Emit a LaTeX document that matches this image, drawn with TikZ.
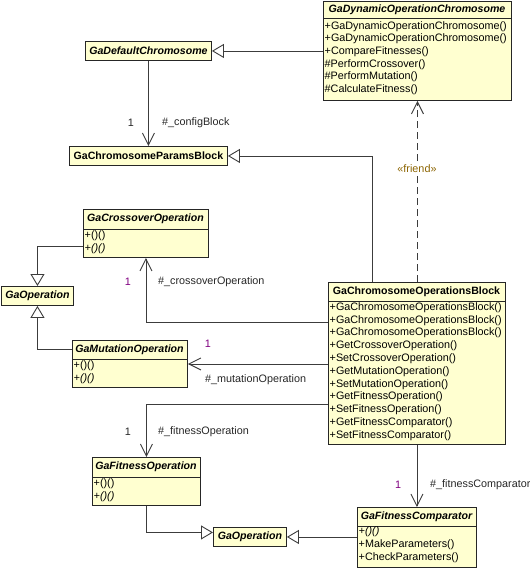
\documentclass[tikz,border=0pt]{standalone}
\usepackage{fontspec}
\setmainfont{Liberation Sans}
\usetikzlibrary{arrows.meta}
\definecolor{boxfill}{RGB}{255,255,208}
\definecolor{lnk}{RGB}{60,60,60}
\definecolor{mult}{RGB}{128,0,128}
\definecolor{stereo}{RGB}{140,100,0}
\tikzset{
  x=1pt,y=1pt,
  cls/.style={draw=black!85, fill=boxfill, line width=0.9pt, anchor=north west, inner sep=0pt},
  sepline/.style={draw=black!85, line width=0.8pt},
  title/.style={font=\fontsize{10.6}{12}\selectfont\bfseries, inner sep=0pt},
  ititle/.style={font=\fontsize{10.6}{12}\selectfont\bfseries\itshape, inner sep=0pt},
  meth/.style={font=\fontsize{10.8}{12}\selectfont, anchor=west, inner sep=0pt},
  imeth/.style={meth, font=\fontsize{10.8}{12}\selectfont\itshape},
  lbl/.style={font=\fontsize{10.8}{12}\selectfont, inner sep=0pt, text=black!85},
  mlbl/.style={lbl, text=mult},
  gen/.style={draw=lnk, line width=0.9pt, -{Triangle[open,length=12pt,width=14pt,fill=white]}},
  assoc/.style={draw=lnk, line width=0.9pt, -{Straight Barb[length=12pt,width=12pt]}},
}
\begin{document}
\begin{tikzpicture}
\useasboundingbox (0,0) rectangle (530,-568);

% GaDynamicOperationChromosome
\node[cls, minimum width=188pt, minimum height=99pt] (dyn) at (323,-1) {};
\draw[sepline] (323,-18) -- (511,-18);
\node[ititle] (dynt) at (417,-9.5) {GaDynamicOperationChromosome};
\node[meth] (dyn1) at (324.5,-26.5) {+GaDynamicOperationChromosome()};
\node[meth] (dyn2) at (324.5,-39.2) {+GaDynamicOperationChromosome()};
\node[meth] (dyn3) at (324.5,-51.8) {+CompareFitnesses()};
\node[meth] (dyn4) at (324.5,-64.5) {\#PerformCrossover()};
\node[meth] (dyn5) at (324.5,-77.2) {\#PerformMutation()};
\node[meth] (dyn6) at (324.5,-89.8) {\#CalculateFitness()};

% GaDefaultChromosome
\node[cls, minimum width=126pt, minimum height=19pt] (defc) at (85,-41) {};
\node[ititle] (defct) at (defc.center) {GaDefaultChromosome};

% GaChromosomeParamsBlock
\node[cls, minimum width=158pt, minimum height=19pt] (params) at (69,-146) {};
\node[title] (paramst) at (params.center) {GaChromosomeParamsBlock};

% GaCrossoverOperation
\node[cls, minimum width=125pt, minimum height=48pt] (cross) at (83,-209) {};
\draw[sepline] (83,-229) -- (208,-229);
\node[ititle] (crosst) at (145.5,-219) {GaCrossoverOperation};
\node[meth] (cross1) at (84.5,-235.5) {+()()};
\node[imeth] (cross2) at (84.5,-248.5) {+()()};

% GaOperation (left)
\node[cls, minimum width=72pt, minimum height=19pt] (gopl) at (1,-286) {};
\node[ititle] (goplt) at (gopl.center) {GaOperation};

% GaMutationOperation
\node[cls, minimum width=115pt, minimum height=47pt] (mut) at (72,-340) {};
\draw[sepline] (72,-359) -- (187,-359);
\node[ititle] (mutt) at (129.5,-349.5) {GaMutationOperation};
\node[meth] (mut1) at (73.5,-366) {+()()};
\node[imeth] (mut2) at (73.5,-379) {+()()};

% GaChromosomeOperationsBlock
\node[cls, minimum width=177pt, minimum height=162pt] (ops) at (328,-282) {};
\draw[sepline] (328,-301) -- (505,-301);
\node[title] (opst) at (416.5,-291.5) {GaChromosomeOperationsBlock};
\node[meth] (ops1) at (329.5,-307.5) {+GaChromosomeOperationsBlock()};
\node[meth] (ops2) at (329.5,-320.3) {+GaChromosomeOperationsBlock()};
\node[meth] (ops3) at (329.5,-333.1) {+GaChromosomeOperationsBlock()};
\node[meth] (ops4) at (329.5,-345.9) {+GetCrossoverOperation()};
\node[meth] (ops5) at (329.5,-358.7) {+SetCrossoverOperation()};
\node[meth] (ops6) at (329.5,-371.5) {+GetMutationOperation()};
\node[meth] (ops7) at (329.5,-384.3) {+SetMutationOperation()};
\node[meth] (ops8) at (329.5,-397.1) {+GetFitnessOperation()};
\node[meth] (ops9) at (329.5,-409.9) {+SetFitnessOperation()};
\node[meth] (ops10) at (329.5,-422.7) {+GetFitnessComparator()};
\node[meth] (ops11) at (329.5,-435.5) {+SetFitnessComparator()};

% GaFitnessOperation
\node[cls, minimum width=108pt, minimum height=48pt] (fitop) at (92,-457) {};
\draw[sepline] (92,-477) -- (200,-477);
\node[ititle] (fitopt) at (146,-467) {GaFitnessOperation};
\node[meth] (fitop1) at (93.5,-484) {+()()};
\node[imeth] (fitop2) at (93.5,-497) {+()()};

% GaOperation (bottom)
\node[cls, minimum width=73pt, minimum height=19pt] (gopb) at (213,-527) {};
\node[ititle] (gopbt) at (gopb.center) {GaOperation};

% GaFitnessComparator
\node[cls, minimum width=119pt, minimum height=60pt] (fitc) at (357,-507) {};
\draw[sepline] (357,-526) -- (476,-526);
\node[ititle] (fitct) at (416.5,-516.5) {GaFitnessComparator};
\node[imeth] (fitc1) at (358.5,-532) {+()()};
\node[meth] (fitc2) at (358.5,-545) {+MakeParameters()};
\node[meth] (fitc3) at (358.5,-558) {+CheckParameters()};

% connectors
\draw[gen] (dyn.west) -- (defc.east);
\draw[assoc] (defc.south) -- (params.north -| defc.south);
\node[lbl] (l1a) at (131,-123) {1};
\node[lbl, anchor=west] (l1b) at (162,-123) {\#\_configBlock};

\draw[gen] (ops.north -| 372,0) |- (params.east);

\draw[assoc, dash pattern=on 7pt off 4pt] (ops.north -| dyn.south) -- (dyn.south);
\node[lbl, text=stereo, fill=white, inner sep=1.5pt] (fr) at (417,-169) {«friend»};

\draw[gen] ([yshift=-13pt]cross.west) -| (gopl.north);
\draw[gen] ([yshift=14.5pt]mut.west) -| (gopl.south);

\draw[assoc] (ops.west |- 0,-322) -| (cross.south);
\node[mlbl] (l2a) at (128,-282) {1};
\node[lbl, anchor=west] (l2b) at (158,-282) {\#\_crossoverOperation};

\draw[assoc] (ops.west |- mut.east) -- (mut.east);
\node[mlbl] (l3a) at (208,-343.5) {1};
\node[lbl, anchor=west] (l3b) at (205,-380) {\#\_mutationOperation};

\draw[assoc] (ops.west |- 0,-404) -| (fitop.north);
\node[lbl] (l4a) at (128,-431.5) {1};
\node[lbl, anchor=west] (l4b) at (158,-431.5) {\#\_fitnessOperation};

\draw[assoc] (ops.south -| fitc.north) -- (fitc.north);
\node[mlbl] (l5a) at (398,-485) {1};
\node[lbl, anchor=west] (l5b) at (430,-485) {\#\_fitnessComparator};

\draw[gen] (fitop.south) |- ([yshift=4.5pt]gopb.west);
\draw[gen] (fitc.west |- gopb.east) -- (gopb.east);
\end{tikzpicture}
\end{document}
